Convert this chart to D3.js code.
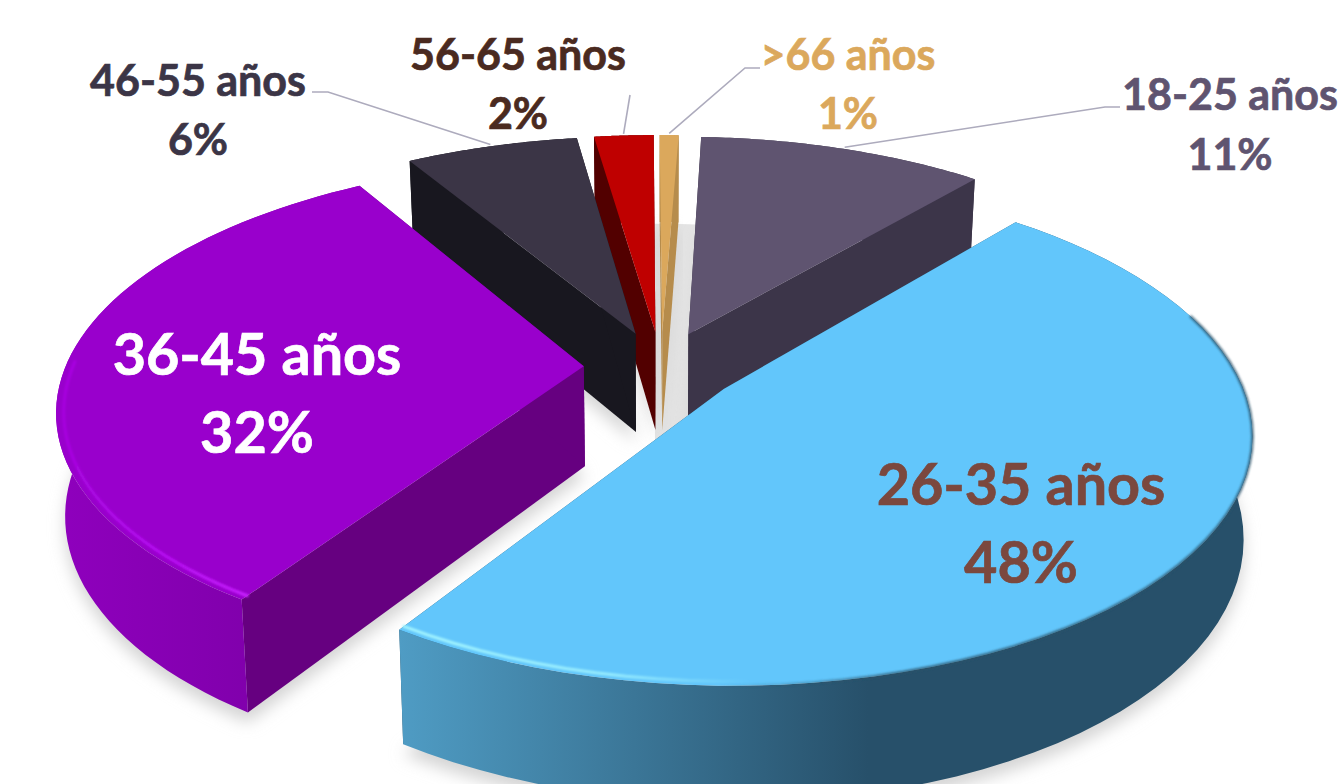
<!DOCTYPE html>
<html lang="es">
<head>
<meta charset="utf-8">
<title>Edades</title>
<script src="https://cdn.jsdelivr.net/npm/d3@7"></script>
<style>
  html, body { margin: 0; background: #fff; }
  svg { display: block; }
  text { font-family: Lato, "Open Sans", sans-serif; font-weight: 700; text-anchor: middle; stroke-width: 0.7; }
  .leader { fill: none; stroke: #adabbd; stroke-width: 1.6; }
</style>
</head>
<body>
<svg id="chart" width="1341" height="784" role="img" aria-label="Distribución por edades"></svg>
<script>
// Values (labels show them rounded)
const ageGroups = ["18-25 años", "26-35 años", "36-45 años", "46-55 años", "56-65 años", ">66 años"]
const shares = [10.6, 48.05, 32.1, 6.35, 2.2, 0.7]

// Colours per slice
const topColors = ["#5f5470", "#62c6fb", "#9900cc", "#3b3546", "#bf0000", "#dba85c"]
const cutColors = ["#3c3549", "#2a5269", "#660080", "#18171f", "#520000", "#b68c4c"]
const wallLeft = ["#3c3549", "#4f9cc4", "#8f00bd", "#18171f", "#520000", "#b68c4c"]
const wallRight = ["#3c3549", "#27506a", "#7800a2", "#18171f", "#520000", "#b68c4c"]
const labelColors = ["#5f5470", "#7b483e", "#ffffff", "#3b3546", "#4a2a20", "#dba85c"]

// Label placement, same order as ageGroups
const labelX = [1230, 1021, 257, 198, 518, 848]
const labelY = [110, 505, 375, 96, 70, 70]
const labelSize = [43, 57.5, 57.5, 43, 43, 43]
const lineGap = [60, 78, 78, 59, 59, 59]
const elbowX = [1120, null, null, 312, null, 760]
const elbowEnd = [1105, null, null, 328, null, 745]
const elbowY = [107, null, null, 92, 95, 68]

// Camera
const rotation = 2.2 * Math.PI / 180
const explode = 0.15
const perspective = 0.165
const lean = 0.005
const thickness = 100
const shrink = 0.015

const svg = d3.select("#chart")
const defs = svg.append("defs")

const x = d3.scaleLinear().domain([-1, 1]).range([661 - 515, 661 + 515])
const y = d3.scaleLinear().domain([-1, 1]).range([367 + 240, 367 - 240])

// u,v on the pie plane, z=0 top face, z=1 bottom face
function project(u, v, z = 0) {
  const w = 1 + perspective * v + lean * u
  const s = 1 - shrink * z
  return [x(u * s / w), y(v / w) + z * thickness / Math.pow(w, 0.8)]
}

const slices = d3.pie().sort(null)
  .startAngle(rotation)
  .endAngle(rotation + 2 * Math.PI)(shares)

const polygon = d3.line().curve(d3.curveLinear)

function sliceGeometry(d) {
  const mid = (d.startAngle + d.endAngle) / 2
  const ou = explode * Math.sin(mid)
  const ov = explode * Math.cos(mid)
  const steps = d3.range(0, 61).map(i => d.startAngle + (d.endAngle - d.startAngle) * i / 60)
  const rim = z => steps.map(a => project(ou + Math.sin(a), ov + Math.cos(a), z))
  return {
    apex: z => project(ou, ov, z),
    rim,
    rimAt: (a, r = 1) => project(ou + r * Math.sin(a), ov + r * Math.cos(a)),
    mid,
    steps
  }
}

const geometry = slices.map(sliceGeometry)

// Soft shadows
const shadowBlur = defs.append("filter").attr("id", "shadow-blur")
  .attr("x", "-20%").attr("y", "-20%").attr("width", "140%").attr("height", "140%")
shadowBlur.append("feGaussianBlur").attr("stdDeviation", 8)

const edgeBlur = defs.append("filter").attr("id", "edge-blur")
  .attr("x", "-10%").attr("y", "-10%").attr("width", "120%").attr("height", "120%")
edgeBlur.append("feGaussianBlur").attr("stdDeviation", 1.3)

const shadows = svg.append("g")

// back gap behind the small slices, flat grey
const gapSteps = d3.range(0, 31).map(i => rotation - 0.04 + i / 30 * 0.7)
shadows.append("path")
  .attr("fill", "#e3e3e3")
  .attr("d", polygon([project(-0.012, 0, 1), ...gapSteps.map(a => project(-0.012 + 1.14 * Math.sin(a), 1.14 * Math.cos(a), 1))]) + "Z")

geometry.forEach(g => {
  shadows.append("path")
    .attr("fill", "#d4d4d4")
    .attr("filter", "url(#shadow-blur)")
    .attr("transform", "translate(0,10)")
    .attr("d", polygon([g.apex(1), ...g.rim(1)]) + "Z")
})

// Gradients for the curved walls
slices.forEach((d, i) => {
  const grad = defs.append("linearGradient").attr("id", `wall-${i}`)
  grad.append("stop").attr("offset", "0%").attr("stop-color", wallLeft[i])
  grad.append("stop").attr("offset", i === 1 ? "55%" : "100%").attr("stop-color", wallRight[i])
})

function bevelGradient(id, stops) {
  const grad = defs.append("linearGradient").attr("id", id)
  stops.forEach(s => {
    grad.append("stop")
      .attr("offset", s[0])
      .attr("stop-color", s[1])
      .attr("stop-opacity", s[2])
  })
}
bevelGradient("bevel-light-1", [["0%", "#a4f6ff", 1], ["60%", "#a4f6ff", 0.8], ["100%", "#a4f6ff", 0]])
bevelGradient("bevel-shade-1", [["0%", "#2a5269", 0], ["35%", "#2a5269", 0.75], ["100%", "#2a5269", 0.75]])
bevelGradient("bevel-light-2", [["0%", "#b60cf2", 0.5], ["50%", "#b60cf2", 1], ["100%", "#c822ff", 1]])

function strokeRim(group, points, stroke, width) {
  group.append("path")
    .attr("fill", "none")
    .attr("stroke", stroke)
    .attr("stroke-width", width)
    .attr("stroke-linecap", "round")
    .attr("filter", "url(#edge-blur)")
    .attr("d", polygon(points))
}

// Painter's order, far slices first
const drawOrder = [5, 4, 3, 0, 2, 1]
const pieLayer = svg.append("g")

drawOrder.forEach(i => {
  const g = geometry[i]
  const top = g.rim(0)
  const bottom = g.rim(1)
  const group = pieLayer.append("g").attr("class", "slice")

  // cut faces
  const faces = [
    [g.apex(0), top[0], bottom[0], g.apex(1)],
    [g.apex(0), top[60], bottom[60], g.apex(1)]
  ]
  faces.forEach(face => {
    group.append("path")
      .attr("fill", cutColors[i])
      .attr("d", polygon(face) + "Z")
  })

  // outer curved wall
  group.append("path")
    .attr("fill", `url(#wall-${i})`)
    .attr("d", polygon([...top, ...bottom.slice().reverse()]) + "Z")

  // top face
  group.append("path")
    .attr("fill", topColors[i])
    .attr("d", polygon([g.apex(0), ...top]) + "Z")

  // bevel on the two big slices: light on the front left, shade on the right
  if (i === 1) {
    strokeRim(group, g.steps.filter(a => a > 1.25 && a < Math.PI * 1.02).map(a => g.rimAt(a)), "url(#bevel-shade-1)", 3)
    strokeRim(group, g.steps.filter(a => a > Math.PI * 0.98).map(a => g.rimAt(a, 0.988)), "url(#bevel-light-1)", 3)
  }
  if (i === 2) {
    strokeRim(group, g.steps.filter(a => Math.cos(a) < 0.03).map(a => g.rimAt(a, 0.986)), "url(#bevel-light-2)", 3)
  }
})

// Leader lines
const leaders = svg.append("g")
geometry.forEach((g, i) => {
  if (elbowY[i] === null) return
  const anchor = g.rimAt(g.mid, 1.01)
  const points = elbowX[i] === null
    ? [[labelX[i] + 112, elbowY[i]], anchor]
    : [[elbowX[i], elbowY[i]], [elbowEnd[i], elbowY[i]], anchor]
  leaders.append("path").attr("class", "leader").attr("d", polygon(points))
})

// Labels
const labels = svg.append("g")
slices.forEach((d, i) => {
  const t = labels.append("text")
    .attr("fill", labelColors[i])
    .attr("stroke", labelColors[i])
    .attr("font-size", labelSize[i])
  t.append("tspan")
    .attr("x", labelX[i])
    .attr("y", labelY[i])
    .text(ageGroups[i])
  t.append("tspan")
    .attr("x", labelX[i])
    .attr("y", labelY[i] + lineGap[i])
    .text(d3.format(".0f")(d.data) + "%")
})
</script>
</body>
</html>
